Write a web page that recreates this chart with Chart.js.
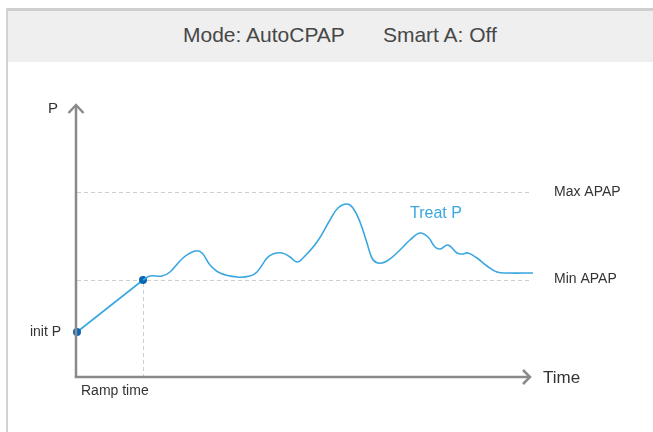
<!DOCTYPE html>
<html>
<head>
<meta charset="utf-8">
<script src="https://cdn.jsdelivr.net/npm/chart.js@4.4.1/dist/chart.umd.min.js"></script>
<style>
  html, body { margin: 0; padding: 0; background: #ffffff; }
  body { width: 653px; height: 432px; position: relative; overflow: hidden; font-family: "Liberation Sans", Arial, sans-serif; }
  #frameTop { position: absolute; left: 6px; top: 8px; width: 647px; height: 3px; background: #cfcfcf; }
  #frameLeft { position: absolute; left: 6px; top: 8px; width: 2px; height: 424px; background: #d2d2d2; }
  #header { position: absolute; left: 8px; top: 11px; width: 645px; height: 51px; background: #efefef; }
  #headerText { position: absolute; left: 183px; top: 0; height: 70px; line-height: 70px; font-size: 21px; color: #474747; white-space: pre; }
  #c { position: absolute; left: 0; top: 0; }
</style>
</head>
<body>
<div id="frameTop"></div>
<div id="frameLeft"></div>
<div id="header"></div>
<div id="headerText"><span id="modeText">Mode: AutoCPAP</span><span style="display:inline-block;width:38px"></span><span id="smartText">Smart A: Off</span></div>
<canvas id="c" width="653" height="432"></canvas>
<script>
// ---- data (time units along x, pressure units along y) ----
const rampTimes = [0.1, 6.7];
const rampValues = [4.6, 9.8];

const treatTimes = [6.7, 7.4, 8.6, 9.4, 10.7, 11.9, 12.6, 13.4, 14.4, 16.1, 17.4, 18.1, 19.1, 19.7, 20.6, 21.4, 22.1, 22.7, 24.1, 25.4, 26.2, 27.1, 27.7, 28.4, 29.1, 29.6, 30.2, 31.1, 32.4, 33.4, 34.4, 35.2, 35.9, 36.4, 37.2, 38.1, 38.6, 39.2, 40.1, 41.1, 42.1, 43.1, 45.7];
const treatValues = [9.8, 10.2, 10.2, 10.6, 12.0, 12.7, 12.5, 11.3, 10.5, 10.1, 10.2, 10.6, 12.0, 12.4, 12.5, 12.1, 11.6, 12.0, 13.6, 15.8, 17.0, 17.4, 17.0, 15.6, 13.5, 12.0, 11.5, 11.7, 12.8, 13.8, 14.5, 14.1, 13.1, 12.9, 13.3, 12.5, 12.4, 12.5, 12.0, 11.2, 10.6, 10.5, 10.5];

const minAPAP = 9.8;
const maxAPAP = 18.6;
const initP = 4.6;
const rampTime = 6.7;
const axisEndTime = 45.4;
const axisEndP = 27.3;

const labels = {
  yAxis: "P", xAxis: "Time", maxLine: "Max APAP", minLine: "Min APAP",
  init: "init P", ramp: "Ramp time", treat: "Treat P"
};

const toXY = (xs, ys) => xs.map((x, i) => ({ x: x, y: ys[i] }));

const lineBlue = "#3aa7e0";
const dotBlue = "#0b67b2";
const axisGray = "#8a8a8a";
const dashGray = "#cfcfcf";
const textDark = "#333333";
const FONT = '"Liberation Sans", Arial, sans-serif';

const decorPlugin = {
  id: 'decor',
  beforeDatasetsDraw(chart) {
    const ctx = chart.ctx, xs = chart.scales.x, ys = chart.scales.y;
    const x0 = xs.getPixelForValue(0), x1 = xs.getPixelForValue(axisEndTime);
    const y0 = ys.getPixelForValue(0);
    ctx.save();
    ctx.strokeStyle = dashGray;
    ctx.lineWidth = 1;
    ctx.setLineDash([4, 3]);
    [maxAPAP, minAPAP].forEach(v => {
      const y = Math.round(ys.getPixelForValue(v)) + 0.5;
      ctx.beginPath(); ctx.moveTo(x0 + 1, y); ctx.lineTo(x1, y); ctx.stroke();
    });
    const rx = Math.round(xs.getPixelForValue(rampTime)) + 0.5;
    ctx.beginPath(); ctx.moveTo(rx, ys.getPixelForValue(minAPAP) + 3); ctx.lineTo(rx, y0); ctx.stroke();
    ctx.restore();
  },
  afterDatasetsDraw(chart) {
    const ctx = chart.ctx, xs = chart.scales.x, ys = chart.scales.y;
    const x0 = xs.getPixelForValue(0), x1 = xs.getPixelForValue(axisEndTime);
    const y0 = ys.getPixelForValue(0) - 1, yTop = ys.getPixelForValue(axisEndP);
    ctx.save();
    ctx.strokeStyle = axisGray;
    ctx.lineWidth = 2.5;
    ctx.lineCap = 'butt';
    ctx.beginPath(); ctx.moveTo(x0, y0); ctx.lineTo(x0, yTop + 1); ctx.stroke();
    ctx.beginPath(); ctx.moveTo(x0 - 1.25, y0); ctx.lineTo(x1 - 1, y0); ctx.stroke();
    ctx.lineJoin = 'miter';
    ctx.beginPath(); ctx.moveTo(x0 - 7.5, yTop + 8); ctx.lineTo(x0, yTop); ctx.lineTo(x0 + 7.5, yTop + 8); ctx.stroke();
    ctx.beginPath(); ctx.moveTo(x1 - 7, y0 - 7); ctx.lineTo(x1, y0); ctx.lineTo(x1 - 7, y0 + 7); ctx.stroke();

    ctx.fillStyle = textDark;
    ctx.textBaseline = 'middle';
    ctx.textAlign = 'left';
    ctx.font = '15px ' + FONT;
    ctx.fillText(labels.yAxis, x0 - 28, yTop + 4);
    ctx.font = '17px ' + FONT;
    ctx.fillText(labels.xAxis, x1 + 13, y0 + 1);
    ctx.font = '14px ' + FONT;
    ctx.fillText(labels.maxLine, x1 + 24, ys.getPixelForValue(maxAPAP));
    ctx.fillText(labels.minLine, x1 + 24, ys.getPixelForValue(minAPAP) - 1);
    ctx.textAlign = 'right';
    ctx.fillText(labels.init, x0 - 15, ys.getPixelForValue(initP));
    ctx.textAlign = 'left';
    ctx.fillText(labels.ramp, x0 + 5, y0 + 14);
    ctx.fillStyle = lineBlue;
    ctx.font = '16px ' + FONT;
    ctx.fillText(labels.treat, xs.getPixelForValue(33.4), ys.getPixelForValue(16.4));
    ctx.restore();
  }
};

new Chart(document.getElementById('c'), {
  type: 'line',
  data: {
    datasets: [
      {
        data: toXY(treatTimes, treatValues),
        borderColor: lineBlue, borderWidth: 1.6,
        pointRadius: 0, fill: false,
        tension: 0.4, clip: false
      },
      {
        data: toXY(rampTimes, rampValues),
        borderColor: lineBlue, borderWidth: 1.6,
        pointRadius: 4, pointBackgroundColor: dotBlue, pointBorderColor: dotBlue, pointBorderWidth: 0,
        tension: 0, fill: false, clip: false
      }
    ]
  },
  options: {
    responsive: false,
    animation: false,
    events: [],
    layout: { padding: { left: 76, top: 105, right: 117, bottom: 54 } },
    plugins: { legend: { display: false }, tooltip: { enabled: false }, title: { display: false } },
    scales: {
      x: { type: 'linear', min: 0, max: 46, display: false },
      y: { type: 'linear', min: 0, max: axisEndP, display: false }
    }
  },
  plugins: [decorPlugin]
});
</script>
</body>
</html>
